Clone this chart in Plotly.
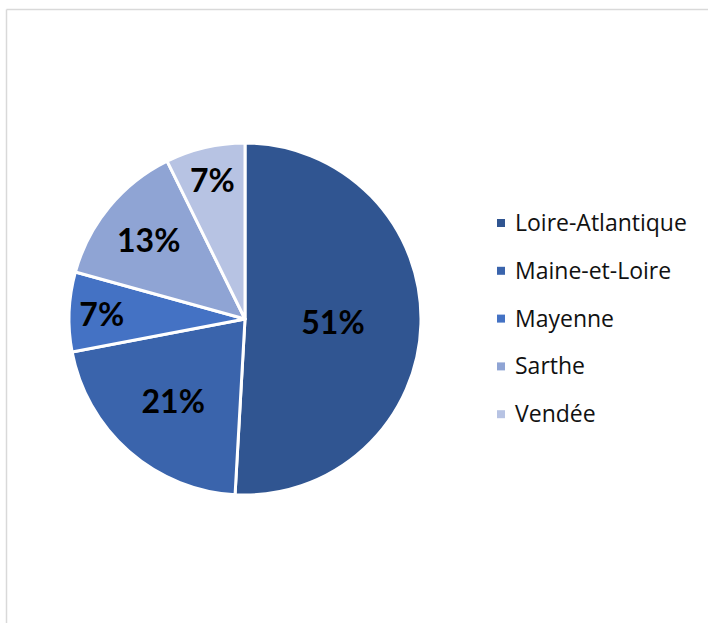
import plotly.graph_objects as go

labels = ["Loire-Atlantique", "Maine-et-Loire", "Mayenne", "Sarthe", "Vendée"]
values = [50.9, 21.1, 7.3, 13.4, 7.3]
colors = ["#305591", "#3A64AC", "#4472C4", "#8FA4D4", "#B7C3E3"]

W, H = 708, 623

fig = go.Figure(go.Pie(
    labels=labels, values=values, sort=False, direction="clockwise", rotation=0,
    marker=dict(colors=colors, line=dict(color="white", width=3)),
    textinfo="percent", texttemplate="%{percent:.0%}", textposition="inside",
    insidetextorientation="horizontal",
    textfont=dict(family="Lato", size=32, color="black", weight="bold"),
    domain=dict(x=[(245 - 176) / W, (245 + 176) / W], y=[1 - 495 / H, 1 - 143 / H]),
    showlegend=False, hoverinfo="label+percent",
))

shapes = [
    dict(type="line", xref="paper", yref="paper", x0=6.5 / W, x1=1, y0=1 - 9.5 / H, y1=1 - 9.5 / H,
         line=dict(color="#D9D9D9", width=1.5)),
    dict(type="line", xref="paper", yref="paper", x0=6.5 / W, x1=6.5 / W, y0=0, y1=1 - 9.5 / H,
         line=dict(color="#D9D9D9", width=1.5)),
]
annotations = []
y0_px, step = 223, 47.8
for i, (lab, col) in enumerate(zip(labels, colors)):
    yc = y0_px + i * step
    shapes.append(dict(type="rect", xref="paper", yref="paper",
                       x0=497 / W, x1=505 / W, y0=1 - (yc + 4) / H, y1=1 - (yc - 4) / H,
                       fillcolor=col, line=dict(width=0)))
    annotations.append(dict(xref="paper", yref="paper", x=513 / W, y=1 - (yc - 1) / H,
                            xanchor="left", yanchor="middle", showarrow=False, text=lab,
                            font=dict(family="Open Sans", size=23, color="#111111")))

fig.update_layout(
    width=W, height=H, margin=dict(l=0, r=0, t=0, b=0),
    paper_bgcolor="white", plot_bgcolor="white",
    uniformtext=dict(minsize=32, mode="show"),
    shapes=shapes, annotations=annotations,
)
fig.write_html("out.html", config={"displayModeBar": False},
               post_script="document.body.style.margin='0px';document.body.style.overflow='hidden';")
